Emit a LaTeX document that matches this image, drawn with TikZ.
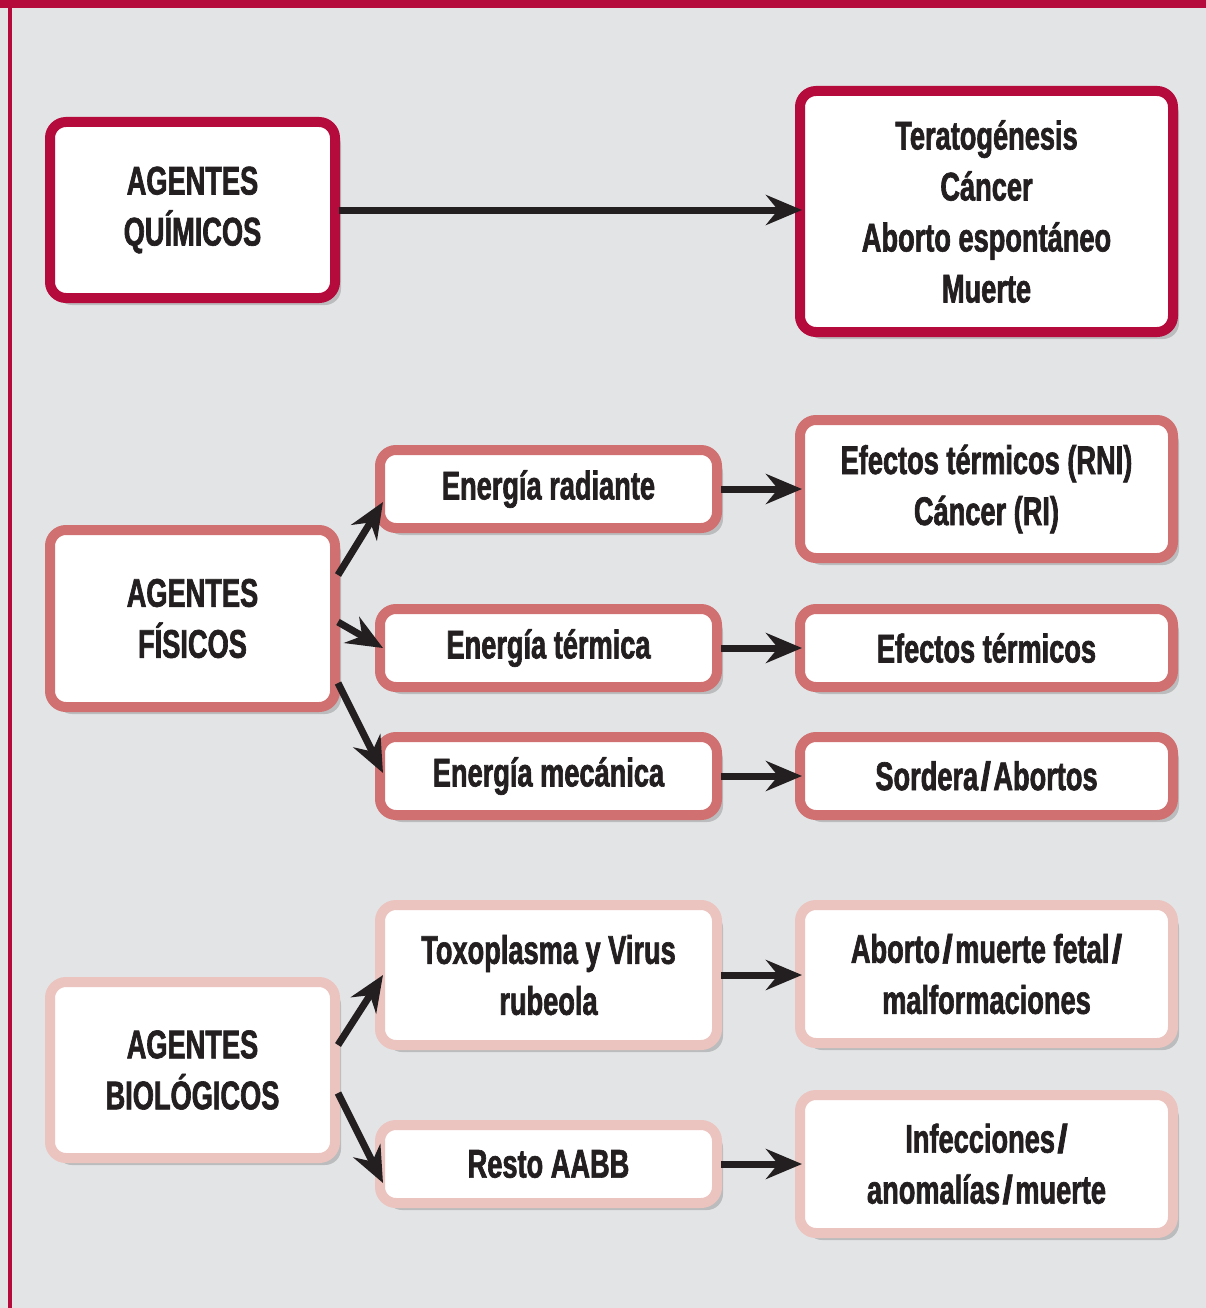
\documentclass[tikz,border=0pt]{standalone}
\usepackage{fontspec}
\setmainfont{Liberation Sans}[FakeStretch=0.68, BoldFont={Liberation Sans Bold}, BoldFeatures={FakeStretch=0.68, FakeBold=1.6}]
\usetikzlibrary{arrows.meta,shadows}
\definecolor{bg}{HTML}{E3E4E6}
\definecolor{crim}{HTML}{B50A3C}
\definecolor{midr}{HTML}{D07070}
\definecolor{lightr}{HTML}{EBC4BF}
\definecolor{ink}{HTML}{231F20}
\newcommand\slmid{\kern2.5pt\scalebox{1.35}[1]{/}\kern2.5pt}
\newcommand\slend{\kern2.5pt\scalebox{1.35}[1]{/}}
\tikzset{
  box/.style={draw, fill=white, line width=10pt, rounded corners=16pt, align=center,
    text=ink, font=\fontsize{40}{51}\selectfont\bfseries, inner sep=0pt,
    drop shadow={shadow xshift=6pt, shadow yshift=-7pt, fill=black!45, opacity=0.45}},
  crimbox/.style={box, draw=crim},
  midbox/.style={box, draw=midr},
  lightbox/.style={box, draw=lightr},
  conn/.style={draw=ink, line width=7pt, -{Stealth[length=36pt, width=30pt, inset=12pt]}},
}
\begin{document}
\begin{tikzpicture}[x=1pt, y=-1pt]
\fill[bg] (0,0) rectangle (1206,1308);
\useasboundingbox (0,0) rectangle (1206,1308);
\fill[crim] (0,0) rectangle (1206,8);
\fill[crim] (8,0) rectangle (12,1308);

\node[crimbox, minimum width=285pt, minimum height=176pt] (q) at (192.5,210) {AGENTES\\QUÍMICOS};
\node[crimbox, minimum width=373pt, minimum height=241pt] (qe) at (986.5,211.5) {Teratogénesis\\Cáncer\\Aborto espontáneo\\Muerte};

\node[midbox, minimum width=285pt, minimum height=177pt] (f) at (192.5,618.5) {AGENTES\\FÍSICOS};
\node[midbox, minimum width=337pt, minimum height=78pt] (fr) at (548.5,489) {Energía radiante};
\node[midbox, minimum width=337pt, minimum height=78pt] (ft) at (548.5,648) {Energía térmica};
\node[midbox, minimum width=337pt, minimum height=78pt] (fm) at (548.5,776) {Energía mecánica};
\node[midbox, minimum width=373pt, minimum height=138pt] (er) at (986.5,489) {Efectos térmicos (RNI)\\Cáncer (RI)};
\node[midbox, minimum width=373pt, minimum height=78pt] (et) at (986.5,648) {Efectos térmicos};
\node[midbox, minimum width=373pt, minimum height=78pt] (em) at (986.5,776) {Sordera\slmid Abortos};

\node[lightbox, minimum width=285pt, minimum height=176pt] (b) at (192.5,1070) {AGENTES\\BIOLÓGICOS};
\node[lightbox, minimum width=337pt, minimum height=140pt] (bt) at (548.5,975) {Toxoplasma y Virus\\rubeola};
\node[lightbox, minimum width=337pt, minimum height=78pt] (br) at (548.5,1164) {Resto AABB};
\node[lightbox, minimum width=373pt, minimum height=138pt] (eb) at (986.5,974) {Aborto\slmid muerte fetal\slend\\malformaciones};
\node[lightbox, minimum width=373pt, minimum height=138pt] (ei) at (986.5,1164) {Infecciones\slend\\anomalías\slmid muerte};

\draw[conn] ([xshift=-1pt]q.east) -- ([xshift=7pt]qe.west |- q.east);
\draw[conn] ([xshift=-2pt, yshift=43.5pt]f.east) -- ([xshift=8pt, yshift=-13pt]fr.west);
\draw[conn] ([xshift=-2pt, yshift=-3.5pt]f.east) -- ([xshift=8pt]ft.west);
\draw[conn] ([xshift=-2pt, yshift=-64.5pt]f.east) -- ([xshift=8pt, yshift=3pt]fm.west);
\draw[conn] ([xshift=-2pt, yshift=25pt]b.east) -- ([xshift=8pt]bt.west);
\draw[conn] ([xshift=-2pt, yshift=-23pt]b.east) -- ([xshift=8pt, yshift=-19pt]br.west);

\draw[conn] ([xshift=-1pt]fr.east) -- ([xshift=7pt]er.west |- fr.east);
\draw[conn] ([xshift=-1pt]ft.east) -- ([xshift=7pt]et.west |- ft.east);
\draw[conn] ([xshift=-1pt]fm.east) -- ([xshift=7pt]em.west |- fm.east);
\draw[conn] ([xshift=-1pt]bt.east) -- ([xshift=7pt]eb.west |- bt.east);
\draw[conn] ([xshift=-1pt]br.east) -- ([xshift=7pt]ei.west |- br.east);
\end{tikzpicture}
\end{document}
